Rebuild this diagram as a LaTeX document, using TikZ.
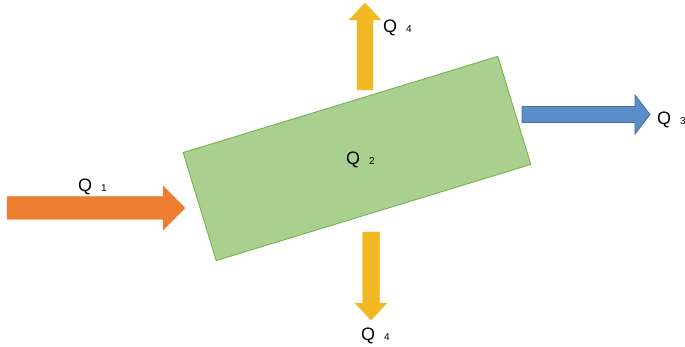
\documentclass[tikz,border=0pt]{standalone}
\usepackage{fontspec}
\setmainfont{Liberation Sans}
\usepackage{tikz}
\usetikzlibrary{positioning,calc}
\usepackage{xcolor}
\definecolor{boxgreen}{RGB}{169,208,142}
\definecolor{boxedge}{RGB}{112,173,71}
\definecolor{inorange}{RGB}{237,125,49}
\definecolor{outgold}{RGB}{242,184,36}
\definecolor{outblue}{RGB}{91,142,201}
\definecolor{blueedge}{RGB}{65,113,156}

\newcommand{\qlab}[1]{Q\hspace{9pt}{\fontsize{10}{12}\selectfont #1}}

\begin{document}
\begin{tikzpicture}[x=1pt, y=-1pt,
    vessel/.style={rectangle, draw=boxedge, thick, fill=boxgreen,
                   minimum width=329pt, minimum height=113pt, inner sep=0pt},
    qtext/.style={anchor=base west, inner sep=0pt, font=\fontsize{18}{20}\selectfont},
    flowin/.style={fill=inorange, draw=inorange},
    flowup/.style={fill=outgold, draw=outgold},
    flowout/.style={fill=outblue, draw=blueedge, thick}
]
\useasboundingbox (0,0) rectangle (685,347);

% reactor body
\node[vessel, rotate=17] (body) at (357,158.5) {};
\node[qtext] (q2) at (346,165) {\qlab{2}};

% block arrows
\draw[flowin]  (7,196.5) -- (163,196.5) -- (163,186) -- (185,208)
               -- (163,230) -- (163,219.5) -- (7,219.5) -- cycle;
\draw[flowup]  (357,90) -- (357,20) -- (349,20) -- (365,3)
               -- (381,20) -- (373,20) -- (373,90) -- cycle;
\draw[flowout] (522,106.5) -- (635,106.5) -- (635,95) -- (650,114.5)
               -- (635,134) -- (635,122.5) -- (522,122.5) -- cycle;
\draw[flowup]  (362.5,232) -- (379.5,232) -- (379.5,303) -- (387,303)
               -- (371,320) -- (355,303) -- (362.5,303) -- cycle;

% labels
\node[qtext] (q1)  at (78,192)  {\qlab{1}};
\node[qtext] (q4a) at (383,33)  {\qlab{4}};
\node[qtext] (q3)  at (657,125) {\qlab{3}};
\node[qtext] (q4b) at (361,340) {\qlab{4}};
\end{tikzpicture}
\end{document}
